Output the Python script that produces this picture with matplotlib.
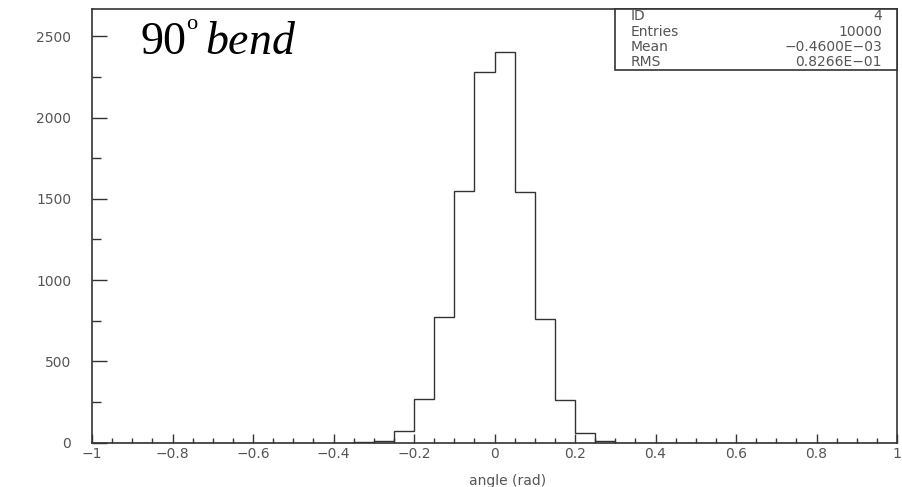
import numpy as np
import matplotlib
matplotlib.use("Agg")
import matplotlib.pyplot as plt
from matplotlib.patches import Rectangle
from matplotlib.ticker import MultipleLocator

# ---- data ----
x_min, x_max, n_bins = -1.0, 1.0, 40
counts = [0, 0, 0, 0, 0, 0, 0, 0, 0, 0,
          0, 0, 0, 3, 8, 71, 266, 770, 1546, 2283,
          2401, 1543, 758, 260, 58, 9, 0, 0, 0, 0,
          0, 0, 0, 0, 0, 0, 0, 0, 0, 0]
x_ticks = [-1, -0.8, -0.6, -0.4, -0.2, 0, 0.2, 0.4, 0.6, 0.8, 1]
x_tick_labels = ["\u22121", "\u22120.8", "\u22120.6", "\u22120.4", "\u22120.2", "0",
                 "0.2", "0.4", "0.6", "0.8", "1"]
y_ticks = [0, 500, 1000, 1500, 2000, 2500]
stats_names = ["ID", "Entries", "Mean", "RMS"]
stats_values = ["4", "10000", "\u22120.4600E\u221203", "0.8266E\u221201"]
x_label = "angle (rad)"

plt.rcParams['font.family'] = ['DejaVu Sans']
plt.rcParams['mathtext.fontset'] = 'custom'
plt.rcParams['mathtext.rm'] = 'Liberation Serif'
plt.rcParams['mathtext.it'] = 'Liberation Serif:italic'

W, H = 903, 487
fig = plt.figure(figsize=(W / 100, H / 100), dpi=100)
L, R, B, T = 92, 897, 442.5, 9.3
ax = fig.add_axes([L / W, 1 - B / H, (R - L) / W, (B - T) / H])

edges = np.linspace(x_min, x_max, n_bins + 1)
ax.stairs(counts, edges, color='#333333', linewidth=1.0, baseline=0)

ax.set_xlim(x_min, x_max)
ax.set_ylim(0, (B - T) / 0.1625)

txt_col = '#555555'
ax.set_xticks(x_ticks)
ax.set_xticklabels(x_tick_labels)
ax.set_yticks(y_ticks)
ax.xaxis.set_minor_locator(MultipleLocator(0.05))
ax.yaxis.set_minor_locator(MultipleLocator(250))
ax.tick_params(axis='x', which='major', direction='in', length=6.5, width=1.0,
               colors='#333333', labelcolor=txt_col, labelsize=10, pad=3)
ax.tick_params(axis='x', which='minor', direction='in', length=3.5, width=1.0,
               colors='#333333')
ax.tick_params(axis='y', which='major', direction='in', length=11, width=1.0,
               colors='#333333', labelcolor=txt_col, labelsize=10, pad=15)
ax.tick_params(axis='y', which='minor', direction='in', length=6.5, width=1.0,
               colors='#333333')
for s in ax.spines.values():
    s.set_color('#333333')
    s.set_linewidth(1.2)

fig.text(508 / W, 1 - 481 / H, x_label, ha='center', va='center',
         fontsize=10, color=txt_col)

# title text
fig.text(140 / W, 1 - 55 / H, r'$\mathrm{90}^{^{\mathrm{o}}}\,\mathit{bend}$',
         ha='left', va='baseline', fontsize=33, color='black')

# stats box
bx0, bx1, by0, by1 = 615, 897, 9.3, 70
fig.add_artist(Rectangle((bx0 / W, 1 - by1 / H), (bx1 - bx0) / W, (by1 - by0) / H,
                         transform=fig.transFigure, facecolor='white',
                         edgecolor='#333333', linewidth=1.2, zorder=5))
rows_y = [16, 32, 47, 62]
for name, val, yy in zip(stats_names, stats_values, rows_y):
    fig.text(631 / W, 1 - yy / H, name, ha='left', va='center', fontsize=10,
             color=txt_col, zorder=6)
    fig.text(882 / W, 1 - yy / H, val, ha='right', va='center', fontsize=10,
             color=txt_col, zorder=6)

fig.savefig('out.png', dpi=100, facecolor='white')
